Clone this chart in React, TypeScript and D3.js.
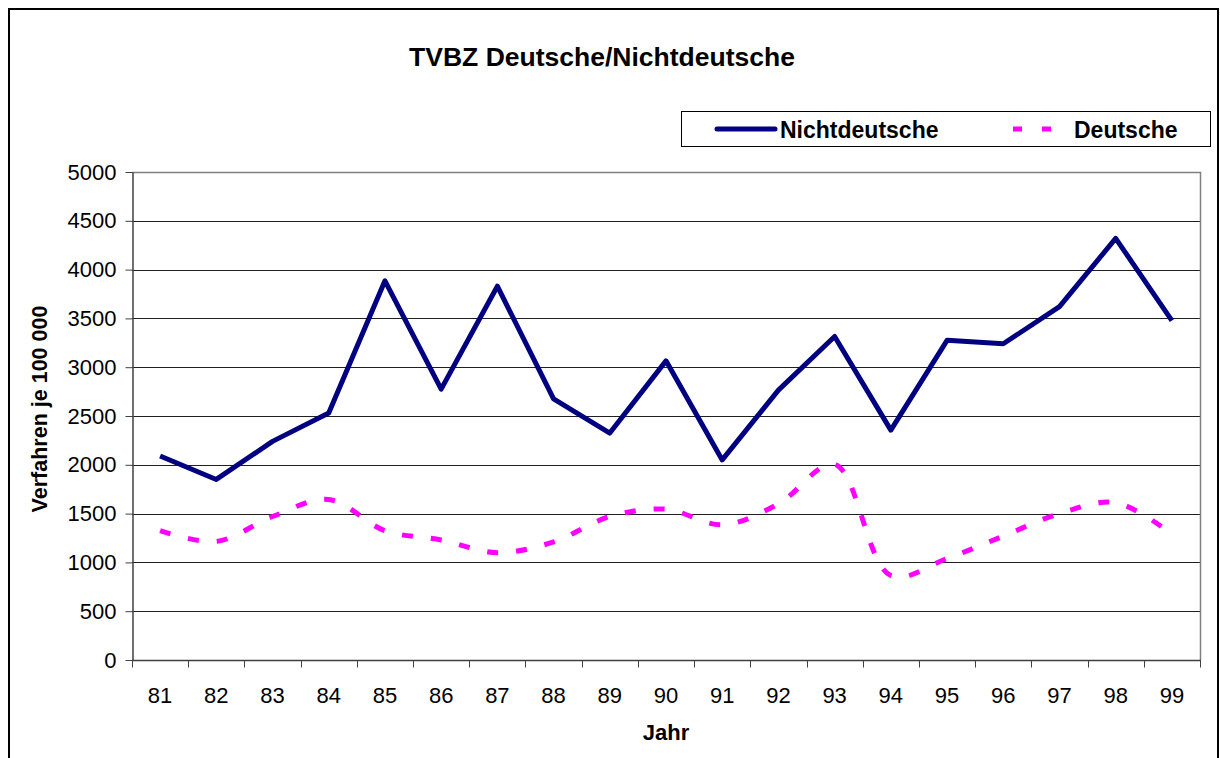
import React, { useEffect, useRef } from "react";
import * as d3 from "d3";

const years = ["81", "82", "83", "84", "85", "86", "87", "88", "89", "90", "91", "92", "93", "94", "95", "96", "97", "98", "99"];
const nichtdeutsche = [2090, 1850, 2240, 2530, 3885, 2775, 3830, 2675, 2325, 3065, 2050, 2765, 3315, 2355, 3275, 3240, 3620, 4320, 3478];
const deutsche = [1325, 1215, 1470, 1645, 1325, 1230, 1100, 1210, 1470, 1545, 1385, 1600, 2005, 865, 1040, 1270, 1500, 1612, 1290];
const yTicks = [0, 500, 1000, 1500, 2000, 2500, 3000, 3500, 4000, 4500, 5000];

const FONT = "'Liberation Sans', Arial, sans-serif";

const App = () => {
    const svgRef = useRef<SVGSVGElement>(null);

    useEffect(() => {
        const svg = d3.select(svgRef.current);
        svg.selectAll("*").remove();

        const left = 132, right = 1200, top = 172, bottom = 660;

        const x = d3.scaleBand().domain(years).range([left, right]);
        const y = d3.scaleLinear().domain([0, 5000]).range([bottom, top]);

        // outer frame
        svg.append("rect")
            .attr("x", 9).attr("y", 9)
            .attr("width", 1209).attr("height", 780)
            .attr("fill", "white")
            .attr("stroke", "black")
            .attr("stroke-width", 2);

        // title
        svg.append("text")
            .attr("x", 602).attr("y", 66)
            .attr("text-anchor", "middle")
            .style("font-family", FONT)
            .style("font-weight", "bold")
            .style("font-size", "26.5px")
            .text("TVBZ Deutsche/Nichtdeutsche");

        // gridlines
        svg.append("g")
            .selectAll("line")
            .data(yTicks.filter(d => d > 0 && d < 5000))
            .enter()
            .append("line")
            .attr("x1", left).attr("x2", right)
            .attr("y1", d => Math.round(y(d)) + 0.5)
            .attr("y2", d => Math.round(y(d)) + 0.5)
            .attr("stroke", "#202020")
            .attr("stroke-width", 1);

        // plot area border (top + right)
        svg.append("path")
            .attr("d", `M${left},${top + 0.5}H${right + 0.5}V${bottom}`)
            .attr("fill", "none")
            .attr("stroke", "#808080")
            .attr("stroke-width", 1.5);

        // y axis
        const yAxis = d3.axisLeft(y).tickValues(yTicks).tickFormat(d3.format("d"))
            .tickSize(7).tickPadding(9).tickSizeOuter(0);
        const gy = svg.append("g")
            .attr("transform", `translate(${left + 0.5},0)`)
            .call(yAxis);
        gy.select(".domain").attr("stroke", "#404040").attr("stroke-width", 1.5);
        gy.selectAll(".tick line").attr("stroke", "#404040");
        gy.selectAll("text")
            .style("font-family", FONT)
            .style("font-size", "22px")
            .attr("fill", "black");

        // x axis: ticks at category boundaries
        const gx = svg.append("g").attr("transform", `translate(0,${bottom + 0.5})`);
        gx.append("line")
            .attr("x1", left).attr("x2", right + 1)
            .attr("stroke", "#404040").attr("stroke-width", 1.5);
        gx.selectAll("line.tk")
            .data(years.concat(["end"]))
            .enter()
            .append("line")
            .attr("class", "tk")
            .attr("x1", (d, i) => Math.round(left + i * x.step()) + 0.5)
            .attr("x2", (d, i) => Math.round(left + i * x.step()) + 0.5)
            .attr("y1", 0).attr("y2", 7)
            .attr("stroke", "#404040");
        gx.selectAll("text")
            .data(years)
            .enter()
            .append("text")
            .attr("x", d => (x(d) as number) + x.bandwidth() / 2)
            .attr("y", 42)
            .attr("text-anchor", "middle")
            .style("font-family", FONT)
            .style("font-size", "22px")
            .text(d => d);

        // axis titles
        svg.append("text")
            .attr("x", (left + right) / 2).attr("y", 740)
            .attr("text-anchor", "middle")
            .style("font-family", FONT)
            .style("font-weight", "bold")
            .style("font-size", "22px")
            .text("Jahr");

        svg.append("text")
            .attr("transform", `translate(47,409) rotate(-90)`)
            .attr("text-anchor", "middle")
            .style("font-family", FONT)
            .style("font-weight", "bold")
            .style("font-size", "21.5px")
            .text("Verfahren je 100 000");

        const cx = (d: string) => (x(d) as number) + x.bandwidth() / 2;

        // Deutsche (smoothed, dashed)
        const lineSmooth = d3.line<number>()
            .x((d, i) => cx(years[i]))
            .y(d => y(d))
            .curve(d3.curveCatmullRom.alpha(0.5));
        svg.append("path")
            .attr("d", lineSmooth(deutsche))
            .attr("fill", "none")
            .attr("stroke", "#FF00FF")
            .attr("stroke-width", 5)
            .attr("stroke-dasharray", "11,18");

        // Nichtdeutsche
        const line = d3.line<number>()
            .x((d, i) => cx(years[i]))
            .y(d => y(d));
        svg.append("path")
            .attr("d", line(nichtdeutsche))
            .attr("fill", "none")
            .attr("stroke", "#000080")
            .attr("stroke-width", 5)
            .attr("stroke-linejoin", "round");

        // legend
        const legend = svg.append("g");
        legend.append("rect")
            .attr("x", 681.5).attr("y", 111.5)
            .attr("width", 529).attr("height", 35)
            .attr("fill", "white")
            .attr("stroke", "black")
            .attr("stroke-width", 1);
        legend.append("line")
            .attr("x1", 717).attr("x2", 775)
            .attr("y1", 129).attr("y2", 129)
            .attr("stroke", "#000080")
            .attr("stroke-width", 5)
            .attr("stroke-linecap", "round");
        legend.append("text")
            .attr("x", 780).attr("y", 138)
            .style("font-family", FONT)
            .style("font-weight", "bold")
            .style("font-size", "23px")
            .text("Nichtdeutsche");
        legend.append("line")
            .attr("x1", 1013).attr("x2", 1052)
            .attr("y1", 129).attr("y2", 129)
            .attr("stroke", "#FF00FF")
            .attr("stroke-width", 5)
            .attr("stroke-dasharray", "9,20");
        legend.append("text")
            .attr("x", 1074).attr("y", 138)
            .style("font-family", FONT)
            .style("font-weight", "bold")
            .style("font-size", "23px")
            .text("Deutsche");
    }, []);

    return (
        <svg ref={svgRef} width={1220} height={758}
            style={{ position: "absolute", left: 0, top: 0, background: "white" }} />
    );
};

export default App;
